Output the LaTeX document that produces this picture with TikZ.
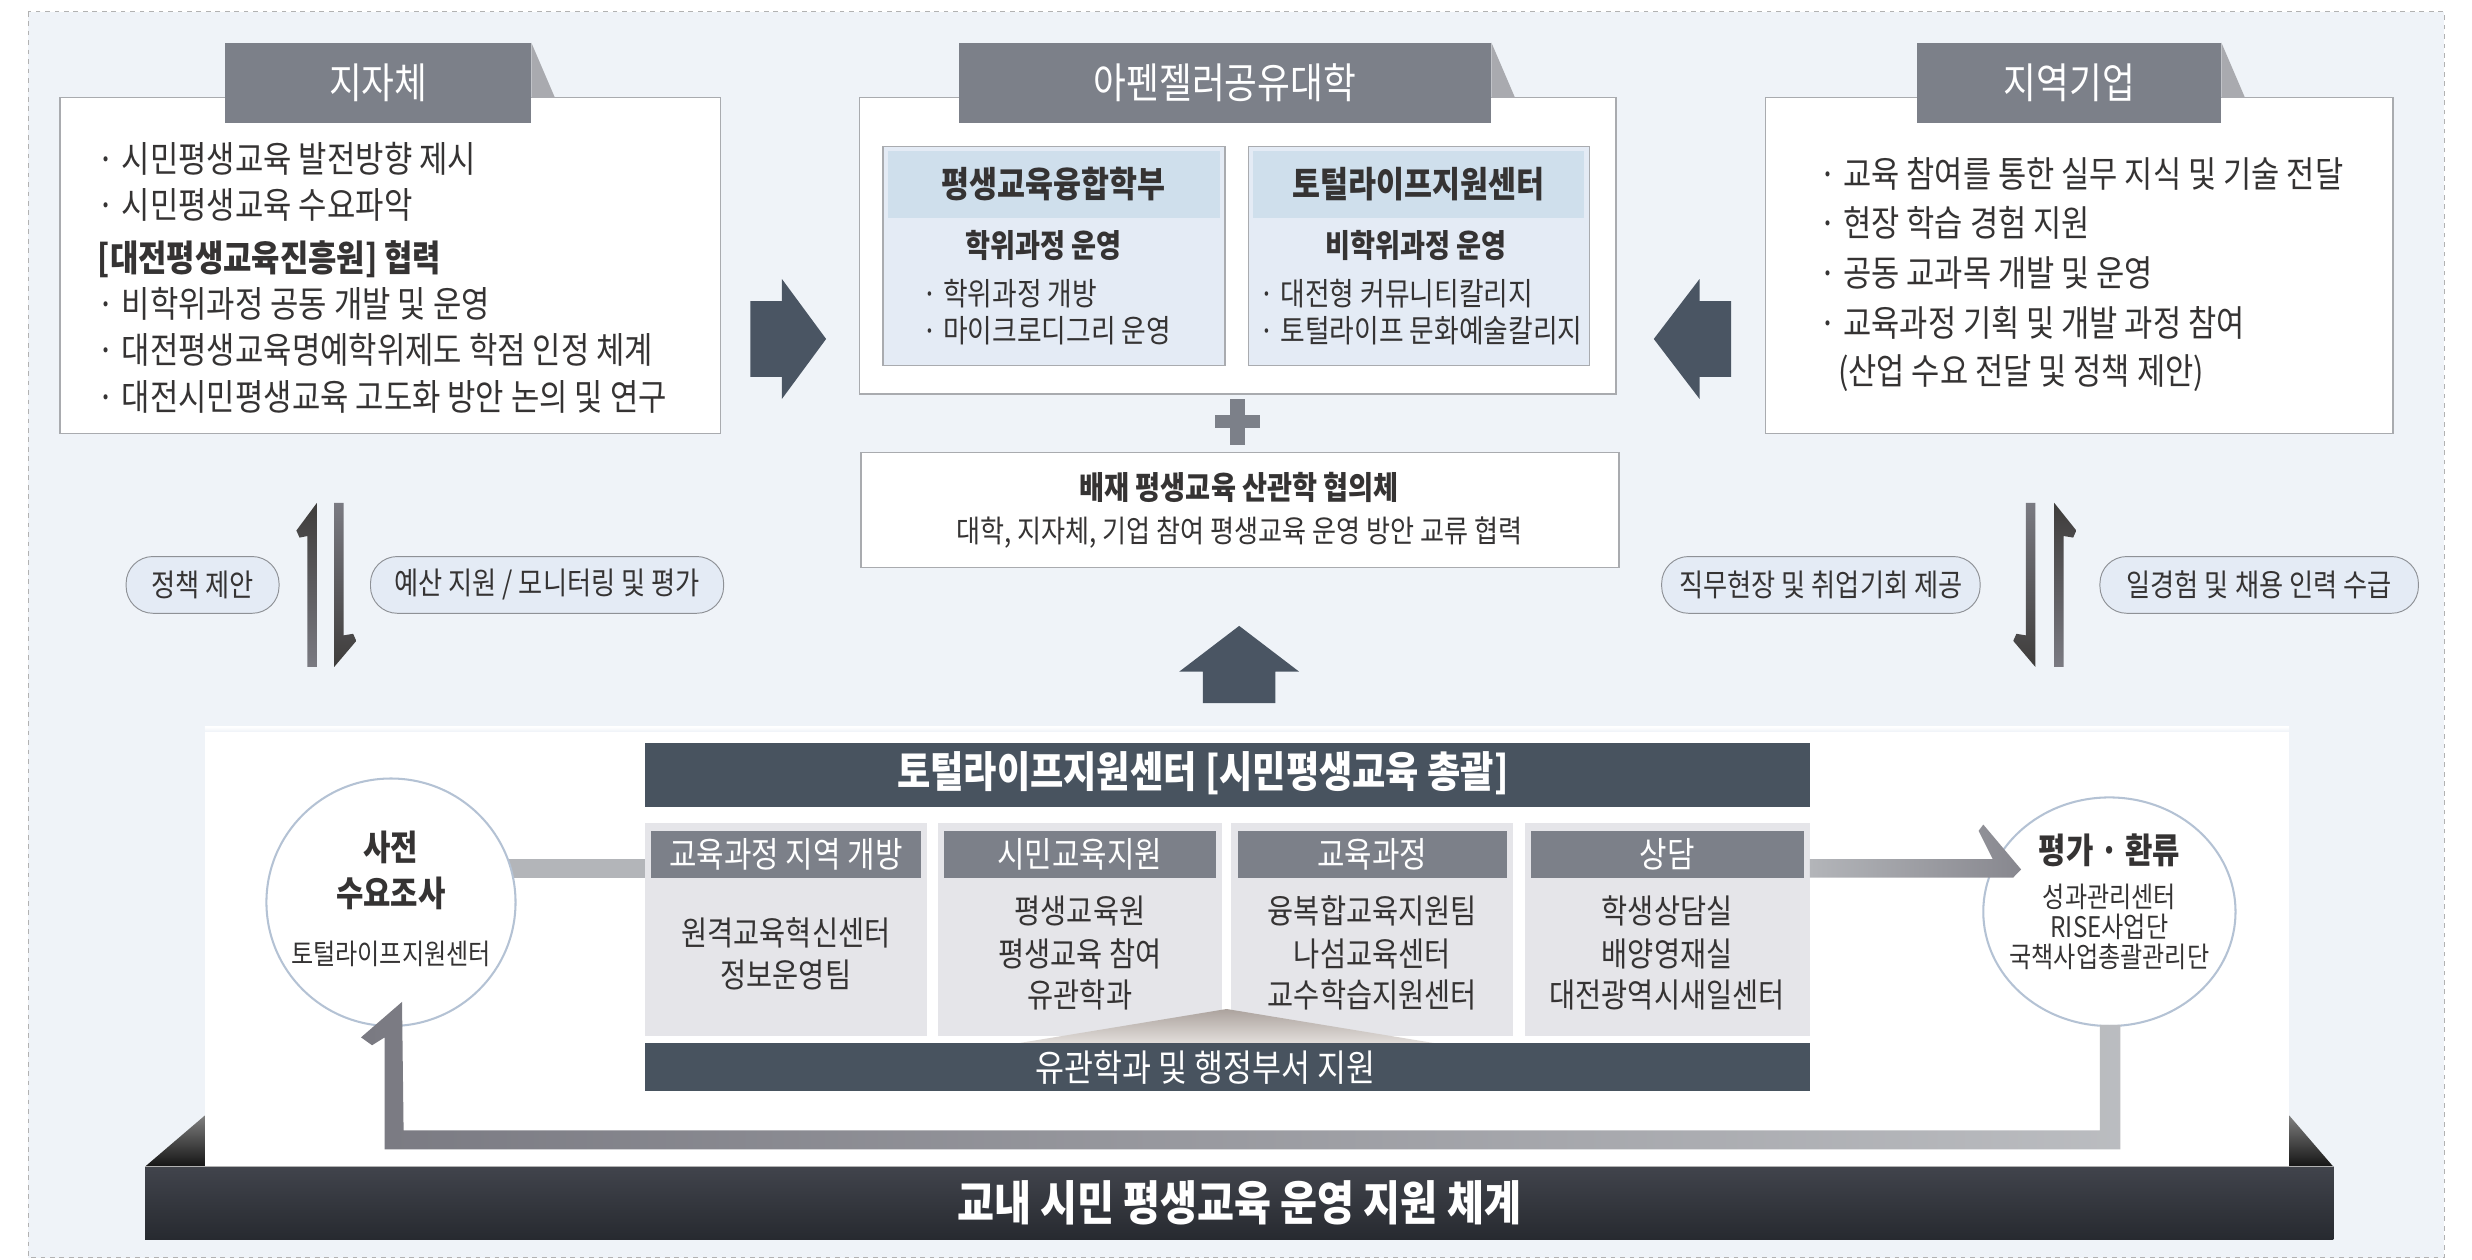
\documentclass[tikz,border=0pt]{standalone}
\usepackage{fontspec}
\setmainfont{Noto Sans CJK KR}[FakeStretch=0.85]
\usetikzlibrary{shapes.geometric}
\definecolor{bgc}{HTML}{EFF3F8}
\definecolor{txtc}{HTML}{353333}
\definecolor{boxline}{HTML}{A9ABAF}
\definecolor{tabc}{HTML}{7C8089}
\definecolor{tabsh}{HTML}{A9AAAF}
\definecolor{innerf}{HTML}{E4EBF5}
\definecolor{innerh}{HTML}{CFDFEC}
\definecolor{darkc}{HTML}{4A5563}
\definecolor{barc}{HTML}{48535F}
\definecolor{colf}{HTML}{E5E5E9}
\definecolor{conc}{HTML}{B3B5B9}
\definecolor{pillline}{HTML}{8E9196}
\definecolor{harpd}{HTML}{3E3C3B}
\definecolor{harpg}{HTML}{7A7A82}
\definecolor{circline}{HTML}{B4C2D4}
\definecolor{tritop}{HTML}{ABA29D}
\definecolor{tribot}{HTML}{E6E2DF}
\definecolor{bartop}{HTML}{41444C}
\definecolor{barbot}{HTML}{272A30}
\newcommand\fsz[1]{\fontsize{#1}{#1}\selectfont}
\begin{document}
\begin{tikzpicture}[x=1pt,y=-1pt,
  every node/.style={inner sep=0pt, outer sep=0pt, text=txtc},
  sidebox/.style={draw=boxline, line width=0.9pt, fill=white},
  tabbox/.style={fill=tabc, text=white, font=\fsz{26.6}},
  innerbox/.style={draw=boxline, line width=0.8pt, fill=innerf},
  pill/.style={draw=pillline, line width=0.6pt, fill=innerf, rounded corners=17pt, font=\fsz{19.6}},
  colbox/.style={fill=colf, minimum width=179pt, minimum height=135pt},
  colhead/.style={fill=tabc, text=white, font=\fsz{22.3}, minimum height=29.6pt},
  colbody/.style={font=\fsz{21.2}},
  circ/.style={ellipse, draw=circline, line width=1.3pt, fill=white},
]
\useasboundingbox (0,0) rectangle (1568,798.6);
\fill[white] (0,0) rectangle (1568,798.6);
\draw[gray!60, dashed, line width=0.5pt, fill=bgc] (18,7.5) rectangle (1550.5,797.8);

% ---------- top boxes ----------
\node[sidebox, minimum width=419pt, minimum height=213pt] (zbox) at (247.5,168.5) {};
\fill[tabsh] (337,27) -- (352,62) -- (337,62) -- cycle;
\node[tabbox, minimum width=194pt, minimum height=51pt] (ztab) at (240,52.5) {지자체};
\begin{scope}[every node/.append style={anchor=west, font=\fsz{23}}]
\node (z1) at (62,101) {· 시민평생교육 발전방향 제시};
\node (z2) at (62,130) {· 시민평생교육 수요파악};
\node[font=\fsz{23}\bfseries] (z3) at (62,164.5) {[대전평생교육진흥원] 협력};
\node (z4) at (62,193) {· 비학위과정 공동 개발 및 운영};
\node (z5) at (62,222) {· 대전평생교육명예학위제도 학점 인정 체계};
\node (z6) at (62,251.5) {· 대전시민평생교육 고도화 방안 논의 및 연구};
\end{scope}

\node[sidebox, minimum width=480pt, minimum height=188pt] (ubox) at (785,156) {};
\fill[tabsh] (946,27) -- (961,62) -- (946,62) -- cycle;
\node[tabbox, minimum width=338pt, minimum height=51pt] (utab) at (777,52.5) {아펜젤러공유대학};
\node[innerbox, minimum width=217pt, minimum height=139pt] (ua) at (668.5,162.5) {};
\fill[innerh] (563,96) rectangle (774,138);
\node[innerbox, minimum width=216pt, minimum height=139pt] (ub) at (900,162.5) {};
\fill[innerh] (795,96) rectangle (1005,138);
\node[font=\fsz{22.7}\bfseries] (ua1) at (668,117) {평생교육융합학부};
\node[font=\fsz{20.3}\bfseries] (ua2) at (662,155.5) {학위과정 운영};
\node[font=\fsz{20}, anchor=west] (ua3) at (585,186) {· 학위과정 개방};
\node[font=\fsz{20}, anchor=west] (ua4) at (585,209.5) {· 마이크로디그리 운영};
\node[font=\fsz{22.7}\bfseries] (ub1) at (900,117) {토털라이프지원센터};
\node[font=\fsz{20.3}\bfseries] (ub2) at (898,155.5) {비학위과정 운영};
\node[font=\fsz{20}, anchor=west] (ub3) at (799,186) {· 대전형 커뮤니티칼리지};
\node[font=\fsz{20}, anchor=west] (ub4) at (799,209.5) {· 토털라이프 문화예술칼리지};

\node[sidebox, minimum width=398pt, minimum height=213pt] (gbox) at (1319,168.5) {};
\fill[tabsh] (1409,27) -- (1424,62) -- (1409,62) -- cycle;
\node[tabbox, minimum width=193pt, minimum height=51pt] (gtab) at (1312.5,52.5) {지역기업};
\begin{scope}[every node/.append style={anchor=west, font=\fsz{22.9}}]
\node (g1) at (1154,110) {· 교육 참여를 통한 실무 지식 및 기술 전달};
\node (g2) at (1154,141.6) {· 현장 학습 경험 지원};
\node (g3) at (1154,173.4) {· 공동 교과목 개발 및 운영};
\node (g4) at (1154,205) {· 교육과정 기획 및 개발 과정 참여};
\node (g5) at (1166,236.8) {(산업 수요 전달 및 정책 제안)};
\end{scope}

% big arrows
\fill[darkc] (476,191) -- (496,191) -- (496,177) -- (524,215) -- (496,253) -- (496,239) -- (476,239) -- cycle;
\fill[darkc] (1098,191) -- (1078,191) -- (1078,177) -- (1049,215) -- (1078,253) -- (1078,239) -- (1098,239) -- cycle;

% plus
\fill[tabc] (780.5,253) rectangle (789.5,282);
\fill[tabc] (770.5,263) rectangle (799,271.5);

% council box
\node[sidebox, minimum width=481pt, minimum height=73pt, line width=1pt] (cbox) at (786.5,323.5) {};
\node[font=\fsz{20.3}\bfseries] (c1) at (786,309) {배재 평생교육 산관학 협의체};
\node[font=\fsz{19.5}] (c2) at (786,338) {대학, 지자체, 기업 참여 평생교육 운영 방안 교류 협력};

% up arrow
\fill[darkc] (763,446) -- (763,426) -- (748,426) -- (786,397) -- (824,426) -- (809,426) -- (809,446) -- cycle;

% pills
\node[pill, minimum width=97pt, minimum height=36pt] (p1) at (128.5,371) {정책 제안};
\node[pill, minimum width=224pt, minimum height=36pt] (p2) at (347,371) {예산 지원 / 모니터링 및 평가};
\node[pill, minimum width=202pt, minimum height=36pt] (p3) at (1155,371) {직무현장 및 취업기회 제공};
\node[pill, minimum width=202pt, minimum height=36pt] (p4) at (1433,371) {일경험 및 채용 인력 수급};

% harpoons
\shade[top color=harpd, bottom color=harpg] (201,319) -- (201,423) -- (195,423) -- (195,340) -- (190,341) -- (188,336.5) -- cycle;
\shade[top color=harpg, bottom color=harpd] (212,319) -- (218,319) -- (218,403) -- (224,402) -- (226,406.5) -- (212,423) -- cycle;
\shade[top color=harpg, bottom color=harpd] (1285,319) -- (1291,319) -- (1291,423) -- (1277,406.5) -- (1279,402) -- (1285,403) -- cycle;
\shade[top color=harpd, bottom color=harpg] (1303,319) -- (1317,336.5) -- (1315,341) -- (1309,340) -- (1309,423) -- (1303,423) -- cycle;

% ---------- bottom section ----------
\fill[white] (130,461) rectangle (1452,740);
\shade[top color=white, bottom color=bgc] (130,461) rectangle (1452,464);
\shade[top color=black!50, bottom color=black!92] (92,740) -- (130,707.5) -- (130,740) -- cycle;
\shade[top color=black!50, bottom color=black!92] (1452,707.5) -- (1480,740) -- (1452,740) -- cycle;
\shade[top color=bartop, bottom color=barbot] (92,740) rectangle (1480,786);
\draw[gray!60, line width=0.6pt] (92,740) -- (1480,740);
\node[font=\fsz{30}\bfseries, text=white] (mainbar) at (786,763) {교내 시민 평생교육 운영 지원 체계};

% left connector (behind circle)
\fill[conc] (322,545) rectangle (409,556.6);

% header bar and columns
\node[fill=barc, minimum width=739pt, minimum height=41pt] (hbar) at (778.5,491.5) {};
\node[font=\fsz{27}\bfseries, text=white] (htext) at (763,490.5) {토털라이프지원센터 [시민평생교육 총괄]};
\node[colbox] (k1) at (498.5,589.5) {};
\node[colbox, minimum width=180pt] (k2) at (685,589.5) {};
\node[colbox] (k3) at (870.5,589.5) {};
\node[colbox, minimum width=181pt] (k4) at (1057.5,589.5) {};
\node[colhead, minimum width=171pt] (h1) at (498.5,541.8) {교육과정 지역 개방};
\node[colhead, minimum width=172pt] (h2) at (685,541.8) {시민교육지원};
\node[colhead, minimum width=171pt] (h3) at (870.5,541.8) {교육과정};
\node[colhead, minimum width=173pt] (h4) at (1057.5,541.8) {상담};
\node[colbody] (b11) at (498.5,592) {원격교육혁신센터};
\node[colbody] (b12) at (498.5,618.5) {정보운영팀};
\node[colbody] (b21) at (685,578) {평생교육원};
\node[colbody] (b22) at (685,605) {평생교육 참여};
\node[colbody] (b23) at (685,631) {유관학과};
\node[colbody] (b31) at (870.5,578) {융복합교육지원팀};
\node[colbody] (b32) at (870.5,605) {나섬교육센터};
\node[colbody] (b33) at (870.5,631) {교수학습지원센터};
\node[colbody] (b41) at (1057.5,578) {학생상담실};
\node[colbody] (b42) at (1057.5,605) {배양영재실};
\node[colbody] (b43) at (1057.5,631) {대전광역시새일센터};

% support triangle and bar
\shade[top color=tritop, bottom color=tribot] (778,640) -- (918,663) -- (638,663) -- cycle;
\node[fill=barc, minimum width=739pt, minimum height=30.5pt] (sbar) at (778.5,677) {};
\node[font=\fsz{23.5}, text=white] (stext) at (764.5,677) {유관학과 및 행정부서 지원};

% circles
\node[circ, minimum width=158pt, minimum height=157pt] (cl) at (248,572.3) {};
\node[font=\fsz{22.2}\bfseries] (cl1) at (248,537.4) {사전};
\node[font=\fsz{22.2}\bfseries] (cl2) at (248,566.8) {수요조사};
\node[font=\fsz{18}] (cl3) at (248,605) {토털라이프지원센터};
\node[circ, minimum width=160pt, minimum height=145pt] (cr) at (1338,578.3) {};
\node[font=\fsz{22.2}\bfseries] (cr1) at (1338,539.5) {평가 · 환류};
\node[font=\fsz{18}] (cr2) at (1338,569) {성과관리센터};
\node[font=\fsz{18}] (cr3) at (1338,587.6) {RISE사업단};
\node[font=\fsz{18}] (cr4) at (1338,607) {국책사업총괄관리단};

% connectors drawn over the circles
\shade[left color=conc, right color=harpg!90] (1148,545) -- (1264,545) -- (1255,527) -- (1258,523) -- (1282,551.5) -- (1277,556.6) -- (1148,556.6) -- cycle;
\shade[left color=harpg, right color=conc!90!white] (1345,650) -- (1345,729) -- (244,729) -- (244,658) -- (236,663) -- (229,658) -- (255,635.5) -- (256,717) -- (1332,717) -- (1332,650) -- cycle;
\end{tikzpicture}
\end{document}
